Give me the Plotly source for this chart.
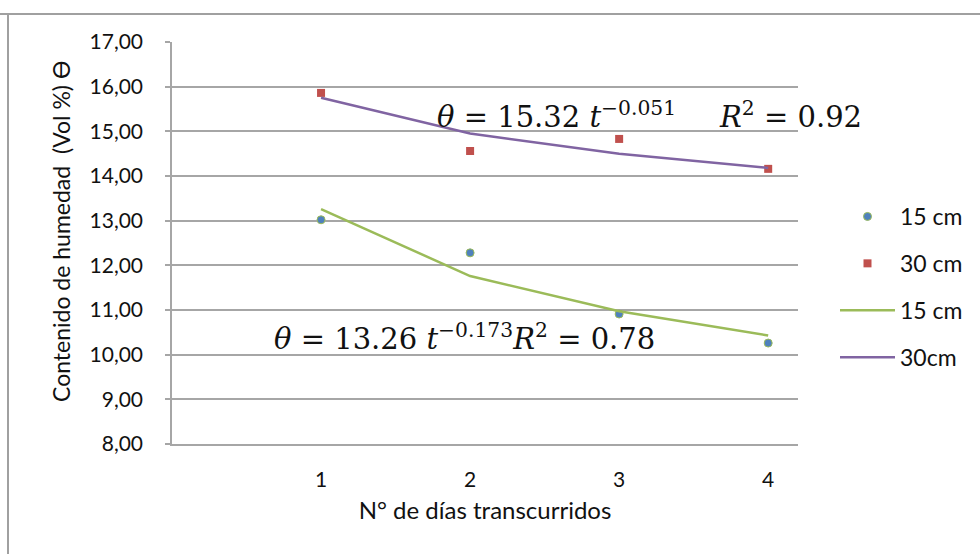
import plotly.graph_objects as go

# Days elapsed and measured volumetric moisture content
dias = [1, 2, 3, 4]
humedad_15 = [13.02, 12.28, 10.91, 10.26]
humedad_30 = [15.86, 14.56, 14.83, 14.16]

# Power-law trend lines evaluated at each day
tendencia_15 = [13.26, 11.76, 10.97, 10.43]
tendencia_30 = [15.75, 14.95, 14.50, 14.18]

y_ticks = [8, 9, 10, 11, 12, 13, 14, 15, 16, 17]
x_ticks = [1, 2, 3, 4]

BLUE = "#4F81BD"
RED = "#C0504D"
GREEN = "#9BBB59"
PURPLE = "#8064A2"
GRID = "#A6A6A6"
TEXT_FONT = "Lato, 'Open Sans', sans-serif"
EQ_FONT = "'DejaVu Serif', 'Liberation Serif', serif"

# Plot area in pixels, used to place paper-referenced items
L, R, T, B = 172, 798, 42, 444
PW, PH = R - L, B - T


def px(x):
    return (x - L) / PW


def py(y):
    return (B - y) / PH


fig = go.Figure()
fig.add_trace(go.Scatter(
    x=dias, y=humedad_15, mode="markers", name="15 cm", legendgroup="a",
    marker=dict(symbol="circle", size=8, color=BLUE, line=dict(color=GREEN, width=1)),
))
fig.add_trace(go.Scatter(
    x=dias, y=humedad_30, mode="markers", name="30 cm", legendgroup="b",
    marker=dict(symbol="square", size=8, color=RED, line=dict(width=0)),
))
fig.add_trace(go.Scatter(
    x=dias, y=tendencia_15, mode="lines", name="15 cm", legendgroup="c",
    line=dict(color=GREEN, width=2.5),
))
fig.add_trace(go.Scatter(
    x=dias, y=tendencia_30, mode="lines", name="30cm", legendgroup="d",
    line=dict(color=PURPLE, width=2.5),
))

eq_style = dict(family=EQ_FONT, size=29, color="#111111")
fig.add_annotation(
    x=1.765, y=15.37, xref="x", yref="y", xanchor="left", yanchor="middle",
    text="<i>θ</i> = 15.32 <i>t</i><sup>−0.051</sup>", showarrow=False, font=eq_style,
)
fig.add_annotation(
    x=3.655, y=15.37, xref="x", yref="y", xanchor="left", yanchor="middle",
    text="<i>R</i><sup>2</sup> = 0.92", showarrow=False, font=eq_style,
)
fig.add_annotation(
    x=0.67, y=10.4, xref="x", yref="y", xanchor="left", yanchor="middle",
    text="<i>θ</i> = 13.26 <i>t</i><sup>−0.173</sup><i>R</i><sup>2</sup> = 0.78",
    showarrow=False, font=eq_style,
)

# Y axis title
fig.add_annotation(
    x=px(61), y=py(232), xref="paper", yref="paper", showarrow=False,
    xanchor="center", yanchor="middle",
    text="Contenido de humedad  (Vol %) ϴ", textangle=-90,
    font=dict(family=TEXT_FONT, size=23, color="#111111"),
)

# Chart frame (top and left edges)
fig.add_shape(type="line", xref="paper", yref="paper", x0=px(0), x1=px(980),
              y0=py(14), y1=py(14), line=dict(color="#A0A0A0", width=2))
fig.add_shape(type="line", xref="paper", yref="paper", x0=px(8), x1=px(8),
              y0=py(14), y1=py(554), line=dict(color="#A0A0A0", width=2))

fig.update_layout(
    width=980, height=554,
    margin=dict(l=L, r=980 - R, t=T, b=554 - B),
    paper_bgcolor="white", plot_bgcolor="white",
    separators=",.",
    font=dict(family=TEXT_FONT, size=21, color="#111111"),
    showlegend=True,
    legend=dict(
        x=px(835), xanchor="left", y=py(287), yanchor="middle",
        font=dict(family=TEXT_FONT, size=23, color="#111111"),
        tracegroupgap=14, itemwidth=55, bgcolor="rgba(0,0,0,0)",
    ),
    xaxis=dict(
        range=[0, 4.2], tickvals=x_ticks, ticktext=[str(v) for v in x_ticks],
        showgrid=False, zeroline=False, showline=True, linecolor=GRID, linewidth=1.5,
        ticks="", ticklabelstandoff=16,
        title=dict(text="N° de días transcurridos", standoff=12,
                   font=dict(family=TEXT_FONT, size=24)),
    ),
    yaxis=dict(
        range=[8, 17], tickvals=y_ticks, tickformat=".2f",
        showgrid=True, gridcolor=GRID, gridwidth=1.5, zeroline=False,
        showline=True, linecolor=GRID, linewidth=1.5,
        ticks="outside", ticklen=5, tickcolor=GRID, tickwidth=1.5,
        ticklabelstandoff=18,
    ),
)

fig.write_html("out.html")
